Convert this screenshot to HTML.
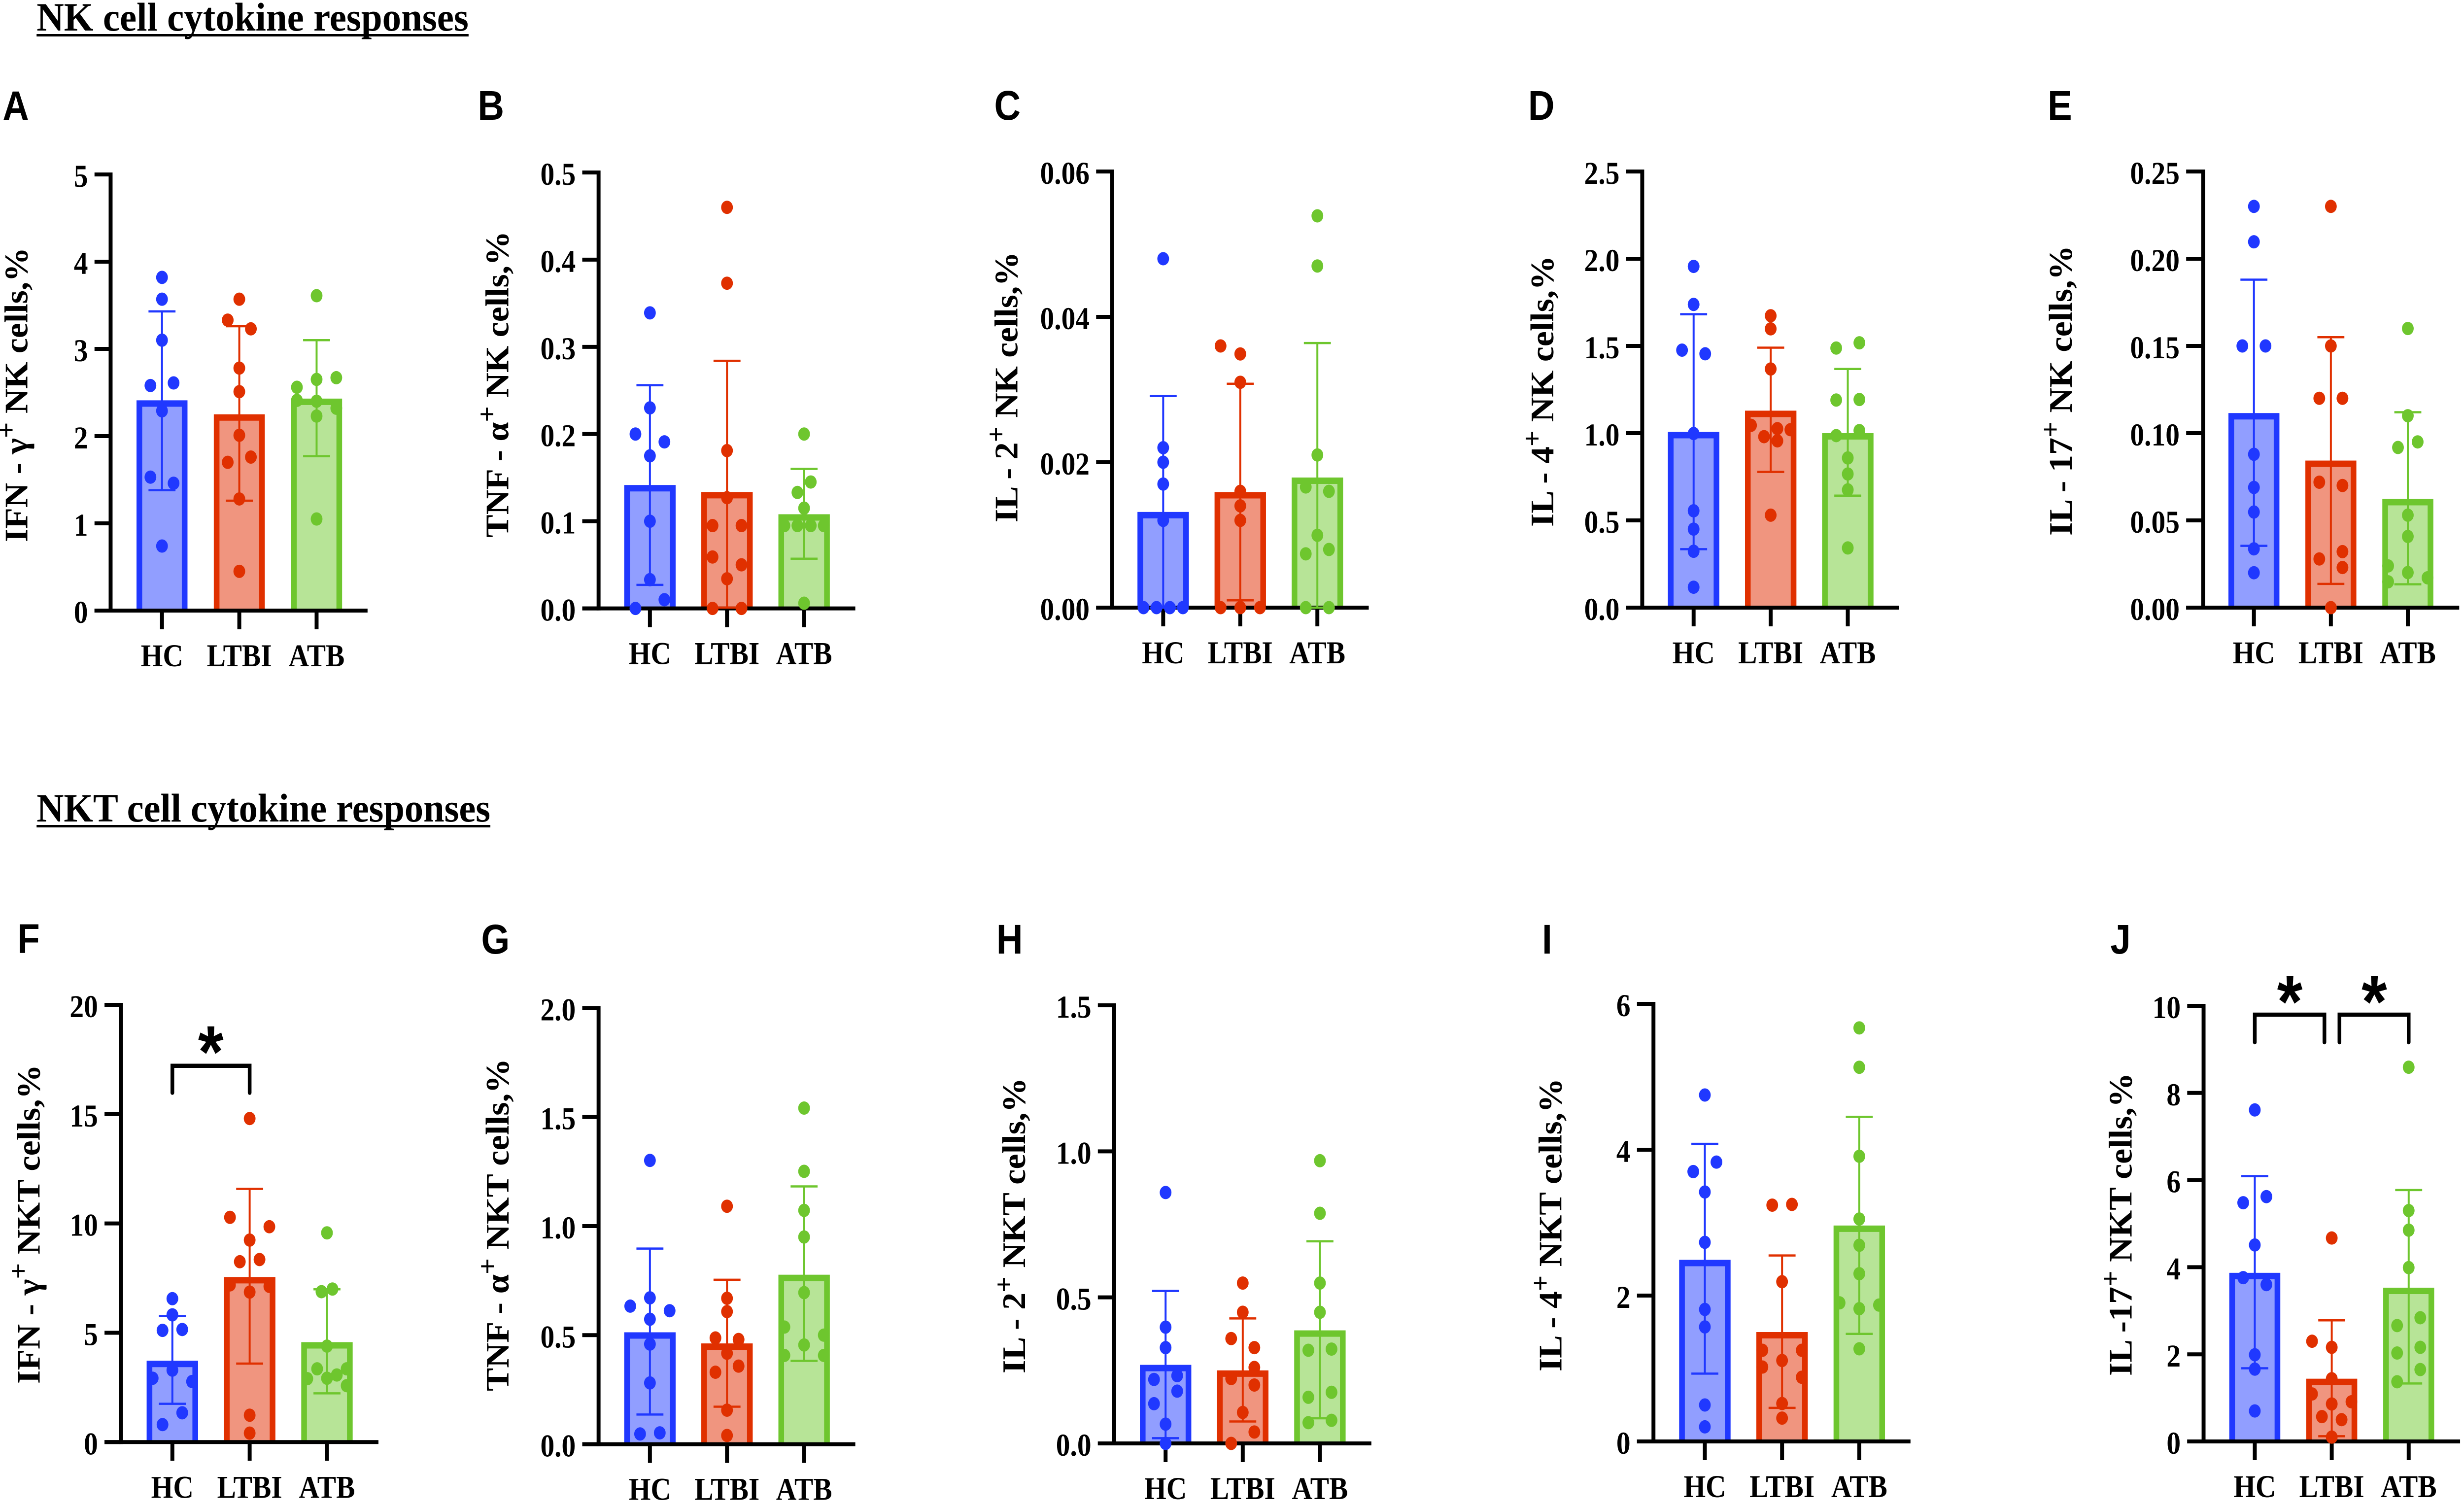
<!DOCTYPE html>
<html>
<head>
<meta charset="utf-8">
<title>NK and NKT cell cytokine responses</title>
<style>
html,body{margin:0;padding:0;background:#fff;width:100%;height:100%;overflow:hidden;}
#figure{display:block;position:absolute;left:0;top:0;width:100vw;height:100vh;max-width:5658px;max-height:3056px;background:#fff;}
text{white-space:pre;}
.serif{font-family:"Liberation Serif",serif;font-weight:700;fill:#000;}
.sans{font-family:"Liberation Sans",sans-serif;font-weight:700;fill:#000;}
</style>
</head>
<body>
<svg id="figure" xmlns="http://www.w3.org/2000/svg" viewBox="0 0 5658 3056" preserveAspectRatio="none">
  <text class="serif" x="84" y="62" font-size="82" textLength="992" lengthAdjust="spacingAndGlyphs">NK cell cytokine responses</text>
  <rect x="84" y="69" width="992" height="5" fill="#000"></rect>
  <text class="serif" x="84" y="1667" font-size="82" textLength="1042" lengthAdjust="spacingAndGlyphs">NKT cell cytokine responses</text>
  <rect x="84" y="1674" width="1042" height="5" fill="#000"></rect>
</svg>
<script>
const categories = ['HC', 'LTBI', 'ATB'];

// Panel A: IFN-gamma NK
const ticksA = ['0', '1', '2', '3', '4', '5'];
const meansA = [2.41, 2.25, 2.43];
const errHighA = [3.43, 3.26, 3.10];
const errLowA = [1.38, 1.26, 1.77];
const hcA = [3.82, 3.57, 3.10, 2.58, 2.61, 2.29, 1.53, 1.46, 0.74];
const hcSlotsA = [0, 0, 0, -2, 2, 0, -2, 2, 0];
const ltbiA = [3.57, 3.33, 3.23, 2.78, 2.51, 2.01, 1.70, 1.76, 1.28, 0.45];
const ltbiSlotsA = [0, -2, 2, 0, 0, 0, -2, 2, 0, 0];
const atbA = [3.61, 2.56, 2.65, 2.67, 2.41, 2.40, 2.32, 2.23, 1.05];
const atbSlotsA = [0, -3.4, 0, 3.4, -3.4, 0, 3.4, 0, 0];

// Panel B: TNF-alpha NK
const ticksB = ['0.0', '0.1', '0.2', '0.3', '0.4', '0.5'];
const meansB = [0.1415, 0.1335, 0.108];
const errHighB = [0.256, 0.284, 0.160];
const errLowB = [0.027, 0.001, 0.057];
const hcB = [0.339, 0.230, 0.200, 0.191, 0.175, 0.100, 0.033, 0.010, 0];
const hcSlotsB = [0, 0, -2.5, 2.5, 0, 0, 0, 2.5, -2.5];
const ltbiB = [0.460, 0.373, 0.181, 0.127, 0.095, 0.095, 0.059, 0.050, 0.034, 0, 0];
const ltbiSlotsB = [0, 0, 0, 0, -2.5, 2.5, -2.5, 2.5, 0, -2.5, 2.5];
const atbB = [0.200, 0.145, 0.133, 0.115, 0.095, 0.095, 0.095, 0.095, 0.006];
const atbSlotsB = [0, 1.15, -1.15, 0, -3.4, -1.15, 1.15, 3.4, 0];

// Panel C: IL-2 NK
const ticksC = ['0.00', '0.02', '0.04', '0.06'];
const meansC = [0.01316, 0.0159, 0.0179];
const errHighC = [0.0291, 0.0308, 0.0364];
const errLowC = [0, 0.001, 0];
const hcC = [0.048, 0.022, 0.020, 0.017, 0.012, 0, 0, 0, 0];
const hcSlotsC = [0, 0, 0, 0, 0, -3.4, -1.15, 1.15, 3.4];
const ltbiC = [0.036, 0.0349, 0.031, 0.016, 0.014, 0.012, 0, 0, 0];
const ltbiSlotsC = [-3.4, 0, 0, 0, 0, 0, -3.4, 0, 3.4];
const atbC = [0.0539, 0.047, 0.021, 0.0166, 0.016, 0.00995, 0.0074, 0.008, 0, 0];
const atbSlotsC = [0, 0, 0, -2, 2, 0, -2, 2, -2, 2];

// Panel D: IL-4 NK
const ticksD = ['0.0', '0.5', '1.0', '1.5', '2.0', '2.5'];
const meansD = [1.007, 1.129, 1.0];
const errHighD = [1.682, 1.49, 1.368];
const errLowD = [0.335, 0.778, 0.642];
const hcD = [1.956, 1.738, 1.476, 1.455, 0.998, 0.555, 0.45, 0.323, 0.117];
const hcSlotsD = [0, 0, -2, 2, 0, 0, 0, 0, 0];
const ltbiD = [1.673, 1.598, 1.368, 1.045, 1.026, 1.02, 0.98, 0.956, 0.53];
const ltbiSlotsD = [0, 0, 0, -3.4, 1.15, 3.4, -1.15, 1.15, 0];
const atbD = [1.488, 1.518, 1.19, 1.193, 0.986, 1.015, 0.858, 0.766, 0.675, 0.342];
const atbSlotsD = [-2, 2, -2, 2, -2, 2, 0, 0, 0, 0];

// Panel E: IL-17 NK
const ticksE = ['0.00', '0.05', '0.10', '0.15', '0.20', '0.25'];
const meansE = [0.1115, 0.0843, 0.0623];
const errHighE = [0.188, 0.155, 0.112];
const errLowE = [0.0354, 0.0136, 0.0134];
const hcE = [0.230, 0.2097, 0.15, 0.15, 0.0879, 0.0689, 0.0548, 0.0337, 0.020];
const hcSlotsE = [0, 0, -2, 2, 0, 0, 0, 0, 0];
const ltbiE = [0.23, 0.15, 0.12, 0.12, 0.0719, 0.07, 0.0279, 0.0321, 0.023, 0];
const ltbiSlotsE = [0, 0, -2, 2, -2, 2, -2, 2, 2, 0];
const atbE = [0.16, 0.11, 0.0918, 0.095, 0.053, 0.0408, 0.0239, 0.0148, 0.0171, 0.0201];
const atbSlotsE = [0, 0, -1.7, 1.7, 0, 0, -3.4, -3.4, 3.4, 0];

// Panel F: IFN-gamma NKT
const ticksF = ['0', '5', '10', '15', '20'];
const meansF = [3.72, 7.55, 4.57];
const errHighF = [5.76, 11.58, 6.99];
const errLowF = [1.75, 3.59, 2.23];
const hcF = [6.56, 5.82, 5.11, 5.15, 3.29, 2.92, 2.77, 1.34, 0.8];
const hcSlotsF = [0, 0, -1.7, 1.7, 0, -3.4, 3.4, 1.7, -1.7];
const ltbiF = [14.8, 10.28, 9.85, 9.24, 8.25, 8.35, 7.19, 7.12, 6.86, 1.23, 0.41];
const ltbiSlotsF = [0, -3.4, 3.4, 0, -1.7, 1.7, -3.4, 3.4, 0, 0, 0];
const atbF = [9.57, 6.88, 7.0, 4.39, 3.35, 3.35, 3.07, 2.92, 2.9, 2.58];
const atbSlotsF = [0, -0.95, 0.95, 0, -1.7, 3.4, 1.7, 0, -3.4, 3.4];

// Panel G: TNF-alpha NKT
const ticksG = ['0.0', '0.5', '1.0', '1.5', '2.0'];
const meansG = [0.513, 0.462, 0.777];
const errHighG = [0.897, 0.754, 1.182];
const errLowG = [0.136, 0.172, 0.382];
const hcG = [1.301, 0.671, 0.633, 0.612, 0.573, 0.459, 0.281, 0.047, 0.052];
const hcSlotsG = [0, 0, -3.4, 3.4, 0, 0, 0, -1.7, 1.7];
const ltbiG = [1.091, 0.669, 0.608, 0.487, 0.48, 0.417, 0.33, 0.358, 0.156, 0.04];
const ltbiSlotsG = [0, 0, 0, -2, 2, 0, -2, 2, 0, 0];
const atbG = [1.541, 1.251, 1.072, 0.95, 0.695, 0.537, 0.5, 0.455, 0.407, 0.407];
const atbSlotsG = [0, 0, 0, 0, 0, -3.4, 3.4, 0, -3.4, 3.4];

// Panel H: IL-2 NKT
const ticksH = ['0.0', '0.5', '1.0', '1.5'];
const meansH = [0.269, 0.25, 0.387];
const errHighH = [0.522, 0.428, 0.692];
const errLowH = [0.018, 0.075, 0.086];
const hcH = [0.859, 0.398, 0.328, 0.232, 0.219, 0.179, 0.136, 0.066, 0];
const hcSlotsH = [0, 0, 0, 2, -2, 2, -2, 0, 0];
const ltbiH = [0.549, 0.449, 0.359, 0.328, 0.26, 0.222, 0.2, 0.106, 0.039, 0];
const ltbiSlotsH = [0, 0, -2, 2, 2, -2, 2, 0, 2, -2];
const atbH = [0.968, 0.788, 0.549, 0.449, 0.319, 0.323, 0.158, 0.175, 0.071, 0.079];
const atbSlotsH = [0, 0, 0, 0, -2, 2, -2, 2, -2, 2];

// Panel I: IL-4 NKT
const ticksI = ['0', '2', '4', '6'];
const meansI = [2.49, 1.50, 2.96];
const errHighI = [4.08, 2.55, 4.45];
const errLowI = [0.93, 0.46, 1.475];
const hcI = [4.75, 3.83, 3.70, 3.42, 2.73, 1.81, 1.57, 0.5, 0.2];
const hcSlotsI = [0, 2, -2, 0, 0, 0, 0, 0, 0];
const ltbiI = [3.24, 3.25, 2.19, 1.25, 1.25, 1.11, 1.02, 0.88, 0.52, 0.32];
const ltbiSlotsI = [-1.7, 1.7, 0, -3.4, 3.4, 0, -3.4, 3.4, 0, 0];
const atbI = [5.67, 5.13, 3.91, 3.05, 2.69, 2.30, 1.9, 1.87, 1.82, 1.27];
const atbSlotsI = [0, 0, 0, 0, 0, 0, -3.4, 3.4, 0, 0];

// Panel J: IL-17 NKT
const ticksJ = ['0', '2', '4', '6', '8', '10'];
const meansJ = [3.87, 1.44, 3.53];
const errHighJ = [6.09, 2.78, 5.77];
const errLowJ = [1.68, 0.12, 1.33];
const hcJ = [7.61, 5.62, 5.48, 4.51, 3.76, 3.6, 1.99, 1.66, 0.7];
const hcSlotsJ = [0, 2, -2, 0, -2, 2, 0, 0, 0];
const ltbiJ = [4.67, 2.3, 2.16, 1.44, 1.09, 0.91, 0.86, 0.57, 0.5, 0.1];
const ltbiSlotsJ = [0, -3.4, 0, 0, -3.4, 3.4, 0, -1.7, 1.7, 0];
const atbJ = [8.59, 5.3, 4.85, 3.99, 2.84, 2.66, 2.16, 2.03, 1.65, 1.37];
const atbSlotsJ = [0, 0, 0, 0, 2, -2, 2, -2, 2, -2];

// Styling shared by every panel
const strokeColors = ['#2038ff', '#e03000', '#6ec62e'];
const fillColors = ['#919eff', '#f0957f', '#b7e497'];

// Panel definitions: frame geometry plus references to the data arrays
const panels = [
  {id:'a', letter:'A', lx:6, ly:244, axisX:254, tickStart:217, xEnd:844, top:354, bottom:1239, c0:372, step:177.5, barW:117,
   label:['IFN - γ','+',' NK cells,%'], labelX:63, labelY:1100, labelLen:598,
   ticks:ticksA, means:meansA, hi:errHighA, lo:errLowA, pts:[hcA,ltbiA,atbA], slots:[hcSlotsA,ltbiSlotsA,atbSlotsA], brackets:[]},
  {id:'b', letter:'B', lx:1097, ly:243, axisX:1374.5, tickStart:1337, xEnd:1964, top:350, bottom:1234.6, c0:1492.4, step:177, barW:118,
   label:['TNF - α','+',' NK cells,%'], labelX:1167, labelY:1091, labelLen:622,
   ticks:ticksB, means:meansB, hi:errHighB, lo:errLowB, pts:[hcB,ltbiB,atbB], slots:[hcSlotsB,ltbiSlotsB,atbSlotsB], brackets:[]},
  {id:'c', letter:'C', lx:2283, ly:243, axisX:2553.7, tickStart:2517, xEnd:3143, top:348, bottom:1233, c0:2671, step:177, barW:118,
   label:['IL - 2','+',' NK cells,%'], labelX:2336, labelY:1060, labelLen:549,
   ticks:ticksC, means:meansC, hi:errHighC, lo:errLowC, pts:[hcC,ltbiC,atbC], slots:[hcSlotsC,ltbiSlotsC,atbSlotsC], brackets:[]},
  {id:'d', letter:'D', lx:3509, ly:243, axisX:3771, tickStart:3734, xEnd:4361, top:348, bottom:1233, c0:3889, step:177, barW:118,
   label:['IL - 4','+',' NK cells,%'], labelX:3567, labelY:1069, labelLen:550,
   ticks:ticksD, means:meansD, hi:errHighD, lo:errLowD, pts:[hcD,ltbiD,atbD], slots:[hcSlotsD,ltbiSlotsD,atbSlotsD], brackets:[]},
  {id:'e', letter:'E', lx:4702, ly:243, axisX:5059, tickStart:5020, xEnd:5647, top:348, bottom:1233, c0:5175.6, step:176.7, barW:117,
   label:['IL - 17','+',' NK cells,%'], labelX:4757, labelY:1087, labelLen:589,
   ticks:ticksE, means:meansE, hi:errHighE, lo:errLowE, pts:[hcE,ltbiE,atbE], slots:[hcSlotsE,ltbiSlotsE,atbSlotsE], brackets:[]},
  {id:'f', letter:'F', lx:40, ly:1934, axisX:278, tickStart:240, xEnd:869, top:2039, bottom:2926.3, c0:395.8, step:177.5, barW:118,
   label:['IFN - γ','+',' NKT cells,%'], labelX:91, labelY:2808, labelLen:648,
   ticks:ticksF, means:meansF, hi:errHighF, lo:errLowF, pts:[hcF,ltbiF,atbF], slots:[hcSlotsF,ltbiSlotsF,atbSlotsF],
   brackets:[{x1:395.8, x2:573.3, top:2162.7, drop:2217.5, starX:484, starY:2102}]},
  {id:'g', letter:'G', lx:1105, ly:1935, axisX:1374.5, tickStart:1337, xEnd:1964, top:2045.4, bottom:2930.6, c0:1492.4, step:177, barW:118,
   label:['TNF - α','+',' NKT cells,%'], labelX:1168, labelY:2823, labelLen:675,
   ticks:ticksG, means:meansG, hi:errHighG, lo:errLowG, pts:[hcG,ltbiG,atbG], slots:[hcSlotsG,ltbiSlotsG,atbSlotsG], brackets:[]},
  {id:'h', letter:'H', lx:2288, ly:1935, axisX:2558.5, tickStart:2521, xEnd:3149, top:2040, bottom:2929, c0:2676.5, step:177.2, barW:118,
   label:['IL - 2','+',' NKT cells,%'], labelX:2354, labelY:2787, labelLen:600,
   ticks:ticksH, means:meansH, hi:errHighH, lo:errLowH, pts:[hcH,ltbiH,atbH], slots:[hcSlotsH,ltbiSlotsH,atbSlotsH], brackets:[]},
  {id:'i', letter:'I', lx:3541, ly:1935, axisX:3796.8, tickStart:3759, xEnd:4387, top:2037, bottom:2925, c0:3914.8, step:177.3, barW:118,
   label:['IL - 4','+',' NKT cells,%'], labelX:3585.5, labelY:2783, labelLen:595,
   ticks:ticksI, means:meansI, hi:errHighI, lo:errLowI, pts:[hcI,ltbiI,atbI], slots:[hcSlotsI,ltbiSlotsI,atbSlotsI], brackets:[]},
  {id:'j', letter:'J', lx:4846, ly:1935, axisX:5060, tickStart:5022.4, xEnd:5649, top:2041, bottom:2925, c0:5177.6, step:176.7, barW:117,
   label:['IL -17','+',' NKT cells,%'], labelX:4895, labelY:2792, labelLen:615,
   ticks:ticksJ, means:meansJ, hi:errHighJ, lo:errLowJ, pts:[hcJ,ltbiJ,atbJ], slots:[hcSlotsJ,ltbiSlotsJ,atbSlotsJ],
   brackets:[{x1:5177.6, x2:5337.5, top:2059, drop:2115, starX:5258, starY:2000},
             {x1:5372, x2:5531, top:2059, drop:2115, starX:5452, starY:2000}]}
];

const SVGNS = 'http://www.w3.org/2000/svg';
const slotUnit = 13.3;
const root = document.getElementById('figure');

function make(tag, parent, attrs) {
  const el = document.createElementNS(SVGNS, tag);
  for (const k in attrs) el.setAttribute(k, attrs[k]);
  parent.appendChild(el);
  return el;
}

function drawPanel(p) {
  const maxValue = parseFloat(p.ticks[p.ticks.length - 1]);
  const yScale = v => p.bottom - (v / maxValue) * (p.bottom - p.top);
  const xScale = i => p.c0 + i * p.step;

  const g = make('g', root, {});
  
  

  const letter = make('text', g, {x:p.lx, y:p.ly, 'font-size':84, class:'sans'});
  letter.textContent = p.letter;
  
  

  // bars
  categories.forEach((cat, i) => {
    const cx = xScale(i);
    const yTop = yScale(p.means[i]);
    const inset = 6.5;
    const fillRect = make('rect', g, {x:cx - p.barW / 2, y:yTop, width:p.barW, height:p.bottom - yTop, fill:fillColors[i]});
    
    
    const outline = make('path', g, {
      d:'M' + (cx - p.barW / 2 + inset) + ' ' + p.bottom +
        'V' + (yTop + inset) + 'H' + (cx + p.barW / 2 - inset) + 'V' + p.bottom,
      fill:'none', stroke:strokeColors[i], 'stroke-width':13});
    
    
  });

  // axes
  const yAxis = make('line', g, {x1:p.axisX, x2:p.axisX, y1:p.top - 4, y2:p.bottom + 4, stroke:'#000', 'stroke-width':9});
  
  
  const xAxis = make('line', g, {x1:p.tickStart, x2:p.xEnd, y1:p.bottom, y2:p.bottom, stroke:'#000', 'stroke-width':8});
  
  

  p.ticks.forEach(t => {
    const y = yScale(parseFloat(t));
    const tick = make('line', g, {x1:p.tickStart, x2:p.axisX, y1:y, y2:y, stroke:'#000', 'stroke-width':8});
    
    
    const lab = make('text', g, {x:p.tickStart - 15, y:y + 25, 'font-size':65, 'text-anchor':'end', class:'serif'});
    lab.textContent = t;
    
    
  });

  categories.forEach((cat, i) => {
    const cx = xScale(i);
    const tick = make('line', g, {x1:cx, x2:cx, y1:p.bottom, y2:p.bottom + 38, stroke:'#000', 'stroke-width':9});
    
    
    const lab = make('text', g, {x:cx, y:p.bottom + 113, 'font-size':65, 'text-anchor':'middle', class:'serif'});
    lab.textContent = cat;
    
    
  });

  // y-axis title
  const title = make('text', g, {
    transform:'translate(' + p.labelX + ' ' + p.labelY + ') rotate(-90)',
    'font-size':76, class:'serif', textLength:p.labelLen, lengthAdjust:'spacingAndGlyphs'});
  
  
  const t1 = make('tspan', title, {});
  t1.textContent = p.label[0];
  const t2 = make('tspan', title, {dy:-28, 'font-size':62});
  t2.textContent = p.label[1];
  const t3 = make('tspan', title, {dy:28});
  t3.textContent = p.label[2];

  // error bars
  categories.forEach((cat, i) => {
    const cx = xScale(i);
    const yh = yScale(p.hi[i]);
    const yl = yScale(p.lo[i]);
    const err = make('path', g, {
      d:'M' + cx + ' ' + yh + 'V' + yl +
        'M' + (cx - 31) + ' ' + yh + 'H' + (cx + 31) +
        'M' + (cx - 31) + ' ' + yl + 'H' + (cx + 31),
      fill:'none', stroke:strokeColors[i], 'stroke-width':4.5});
    
    
  });

  // points
  categories.forEach((cat, i) => {
    const cx = xScale(i);
    p.pts[i].forEach((v, k) => {
      const dot = make('circle', g, {cx:cx + p.slots[i][k] * slotUnit, cy:yScale(v), r:13.5, fill:strokeColors[i]});
      
      
    });
  });

  // significance brackets
  p.brackets.forEach(b => {
    const br = make('path', g, {
      d:'M' + b.x1 + ' ' + b.drop + 'V' + b.top + 'H' + b.x2 + 'V' + b.drop,
      fill:'none', stroke:'#000', 'stroke-width':8.5, 'stroke-linejoin':'miter', 'stroke-linecap':'round'});
    
    
    const star = make('text', g, {x:b.starX, y:b.starY + 84, 'font-size':150, 'text-anchor':'middle', class:'sans'});
    star.textContent = '*';
    
    
  });
}

panels.forEach(drawPanel);
</script>
</body>
</html>
